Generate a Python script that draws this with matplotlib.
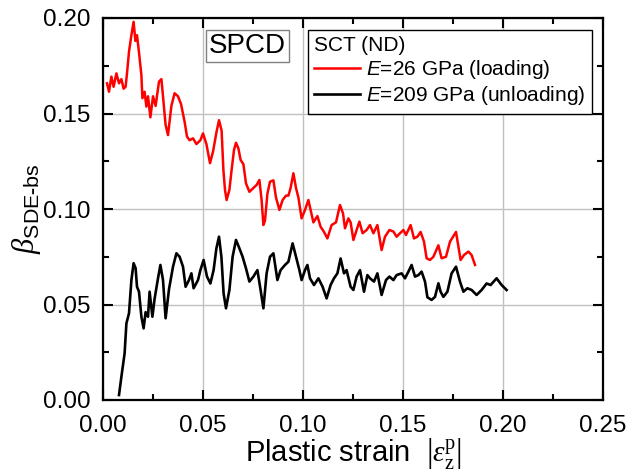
import matplotlib
matplotlib.use("Agg")
import matplotlib.pyplot as plt

plt.rcParams['font.family'] = ['Liberation Sans', 'DejaVu Sans']
plt.rcParams['mathtext.fontset'] = 'custom'
plt.rcParams['mathtext.rm'] = 'Liberation Serif'
plt.rcParams['mathtext.it'] = 'Liberation Sans:italic'
plt.rcParams['mathtext.sf'] = 'Liberation Sans'
plt.rcParams['mathtext.cal'] = 'Liberation Serif:italic'

# ---- data ----
red_x = [0.002, 0.003, 0.0042, 0.0053, 0.0067, 0.008, 0.0092, 0.0103, 0.0113, 0.012, 0.013, 0.0142,
         0.0153, 0.0162, 0.017, 0.018, 0.0192, 0.0197, 0.0208, 0.0217, 0.0225, 0.0237, 0.025, 0.0263,
         0.028, 0.0292, 0.030, 0.0313, 0.0325, 0.0342, 0.0358, 0.0375, 0.039, 0.0408, 0.042, 0.0433,
         0.045, 0.0467, 0.0487, 0.050, 0.0517, 0.0535, 0.055, 0.0567, 0.058, 0.0593, 0.0602, 0.061,
         0.0618, 0.0632, 0.0643, 0.0655, 0.0665, 0.0677, 0.0688, 0.0702, 0.0715, 0.0732, 0.0752, 0.0768,
         0.0782, 0.0793, 0.0802, 0.081, 0.0822, 0.0835, 0.0852, 0.0865, 0.0882, 0.0898, 0.0915, 0.0927,
         0.0938, 0.0952, 0.0965, 0.0977, 0.0993, 0.101, 0.1027, 0.1038, 0.1052, 0.1072, 0.1088, 0.1105,
         0.1122, 0.1143, 0.1165, 0.1185, 0.120, 0.121, 0.1227, 0.1238, 0.1252, 0.1265, 0.1282, 0.1298,
         0.1318, 0.1335, 0.1352, 0.1372, 0.1393, 0.141, 0.1432, 0.1452, 0.1468, 0.1485, 0.1502, 0.1515,
         0.1538, 0.1555, 0.1572, 0.1588, 0.1605, 0.1618, 0.1635, 0.1652, 0.1677, 0.1693, 0.1715, 0.1735,
         0.1765, 0.1788, 0.1805, 0.1827, 0.1843, 0.186]
red_y = [0.1658, 0.1614, 0.1693, 0.164, 0.171, 0.1658, 0.168, 0.163, 0.164, 0.171, 0.1824, 0.191,
         0.198, 0.188, 0.191, 0.182, 0.170, 0.158, 0.1614, 0.1536, 0.159, 0.148, 0.159, 0.154,
         0.1667, 0.168, 0.159, 0.144, 0.1387, 0.154, 0.1606, 0.159, 0.155, 0.1457, 0.1379, 0.136,
         0.137, 0.134, 0.136, 0.1396, 0.134, 0.124, 0.130, 0.140, 0.1465, 0.141, 0.1204, 0.110,
         0.1047, 0.110, 0.1204, 0.1309, 0.1347, 0.1317, 0.1257, 0.1234, 0.1134, 0.109, 0.111, 0.1126,
         0.1152, 0.1047, 0.0916, 0.094, 0.108, 0.1143, 0.115, 0.106, 0.0995, 0.1047, 0.107, 0.107,
         0.111, 0.1187, 0.111, 0.106, 0.0951, 0.0995, 0.1047, 0.0995, 0.093, 0.0963, 0.0907, 0.088,
         0.0846, 0.0916, 0.093, 0.1021, 0.0977, 0.0899, 0.0951, 0.093, 0.0838, 0.088, 0.0934, 0.0873,
         0.089, 0.0916, 0.0873, 0.0916, 0.0785, 0.0855, 0.089, 0.0882, 0.0855, 0.0873, 0.089, 0.0864,
         0.0916, 0.0846, 0.0855, 0.088, 0.0829, 0.0742, 0.0733, 0.075, 0.081, 0.0742, 0.075, 0.0829,
         0.088, 0.0733, 0.0759, 0.0777, 0.0759, 0.0707]

black_x = [0.008, 0.0092, 0.0108, 0.0117, 0.013, 0.0142, 0.0153, 0.0163, 0.017, 0.018, 0.0192, 0.0203,
           0.0213, 0.0225, 0.0233, 0.0247, 0.0258, 0.0275, 0.0287, 0.030, 0.0313, 0.033, 0.035, 0.0367,
           0.0383, 0.040, 0.0413, 0.043, 0.0442, 0.0453, 0.0475, 0.0487, 0.0503, 0.052, 0.0537, 0.0553,
           0.0567, 0.058, 0.0592, 0.0603, 0.0615, 0.0632, 0.0648, 0.0665, 0.0682, 0.0698, 0.0715, 0.0732,
           0.0752, 0.0772, 0.0788, 0.0802, 0.0818, 0.0835, 0.0852, 0.0872, 0.0888, 0.091, 0.0927, 0.0948,
           0.0965, 0.0982, 0.0993, 0.101, 0.1022, 0.1035, 0.1055, 0.1077, 0.1098, 0.1118, 0.1138, 0.1155,
           0.1172, 0.1188, 0.1205, 0.1218, 0.1238, 0.1252, 0.1268, 0.1285, 0.1305, 0.1322, 0.1335, 0.1355,
           0.1372, 0.1393, 0.1415, 0.1432, 0.1452, 0.1468, 0.1493, 0.151, 0.1527, 0.1543, 0.156, 0.1577,
           0.1593, 0.161, 0.1622, 0.1643, 0.166, 0.1677, 0.1688, 0.1702, 0.1722, 0.1743, 0.1765, 0.1785,
           0.1802, 0.1822, 0.1843, 0.1868, 0.1893, 0.1918, 0.1938, 0.1968, 0.1993, 0.2018]
black_y = [0.0026, 0.0122, 0.0244, 0.0401, 0.0454, 0.0628, 0.0716, 0.069, 0.0593, 0.0567, 0.0436, 0.0375,
           0.046, 0.0436, 0.0567, 0.0436, 0.053, 0.0637, 0.0707, 0.0628, 0.0428, 0.058, 0.0698, 0.0768,
           0.075, 0.0698, 0.0593, 0.0628, 0.0663, 0.0585, 0.0628, 0.068, 0.0733, 0.0646, 0.061, 0.068,
           0.0794, 0.0855, 0.075, 0.0558, 0.048, 0.0576, 0.075, 0.0838, 0.0794, 0.075, 0.0689, 0.062,
           0.0646, 0.068, 0.0576, 0.048, 0.0663, 0.075, 0.0768, 0.0628, 0.068, 0.0707, 0.0724, 0.082,
           0.075, 0.068, 0.0628, 0.068, 0.0707, 0.0637, 0.0602, 0.0637, 0.0593, 0.0532, 0.0602, 0.0637,
           0.0663, 0.0741, 0.0663, 0.068, 0.0593, 0.0576, 0.0646, 0.068, 0.0567, 0.0654, 0.0637, 0.062,
           0.0663, 0.055, 0.0628, 0.0646, 0.0628, 0.0654, 0.0663, 0.0637, 0.0672, 0.0707, 0.0646, 0.0654,
           0.0672, 0.062, 0.0538, 0.0524, 0.054, 0.0611, 0.0567, 0.054, 0.0567, 0.0663, 0.0698, 0.062,
           0.0567, 0.0585, 0.0576, 0.055, 0.0576, 0.061, 0.0602, 0.0637, 0.0602, 0.0576]

x_ticks = [0.00, 0.05, 0.10, 0.15, 0.20, 0.25]
y_ticks = [0.00, 0.05, 0.10, 0.15, 0.20]
x_tick_labels = ["0.00", "0.05", "0.10", "0.15", "0.20", "0.25"]
y_tick_labels = ["0.00", "0.05", "0.10", "0.15", "0.20"]
red_label = r"$E$=26 GPa (loading)"
black_label = r"$E$=209 GPa (unloading)"
legend_title = "SCT (ND)"
tag_text = "SPCD"

# ---- figure ----
fig = plt.figure(figsize=(6.3, 4.76), dpi=100)
ax = fig.add_axes([103/630, 1 - 400/476, 500/630, 382/476])

ax.grid(True, color='#c0c0c0', linewidth=1.0, zorder=0)
ax.set_axisbelow(True)

ax.plot(red_x, red_y, color='#ff0000', linewidth=1.8, label=red_label, zorder=3)
ax.plot(black_x, black_y, color='black', linewidth=1.9, label=black_label, zorder=3)

ax.set_xlim(0, 0.25)
ax.set_ylim(0, 0.20)
ax.set_xticks(x_ticks)
ax.set_xticklabels(x_tick_labels)
ax.set_yticks(y_ticks)
ax.set_yticklabels(y_tick_labels)
ax.set_xticks([0.025, 0.075, 0.125, 0.175, 0.225], minor=True)
ax.set_yticks([0.025, 0.075, 0.125, 0.175], minor=True)

ax.tick_params(which='both', direction='in', top=True, right=True, labelsize=17.5, width=1.5)
ax.tick_params(which='major', length=7)
ax.tick_params(which='minor', length=4)
ax.tick_params(axis='x', which='both', pad=11)
ax.tick_params(axis='y', which='both', pad=9)
for s in ax.spines.values():
    s.set_linewidth(1.6)

ax.set_xlabel(r"Plastic strain  $\left|\mathcal{\varepsilon}_{\mathrm{z}}^{\mathrm{p}}\right|$", fontsize=21, labelpad=-1)
ax.set_ylabel(r"$\mathcal{\beta}_{\mathsf{SDE\text{-}bs}}$", fontsize=22, labelpad=0)

leg = ax.legend(title=legend_title, loc='upper right', bbox_to_anchor=(0.978, 0.9686),
                borderaxespad=0, fontsize=15, title_fontsize=15, frameon=True, fancybox=False,
                handlelength=2.2, handletextpad=0.3, borderpad=0.3, labelspacing=0.15,
                alignment='left')
leg.get_frame().set_edgecolor('black')
leg.get_frame().set_linewidth(1.0)
leg.get_frame().set_alpha(1.0)

ax.text(0.289, 0.9267, tag_text, transform=ax.transAxes, fontsize=20, ha='center', va='center',
        bbox=dict(boxstyle='square,pad=0.1', facecolor='white', edgecolor='#808080', linewidth=1.0),
        zorder=5)

fig.savefig("out.png", dpi=100)
